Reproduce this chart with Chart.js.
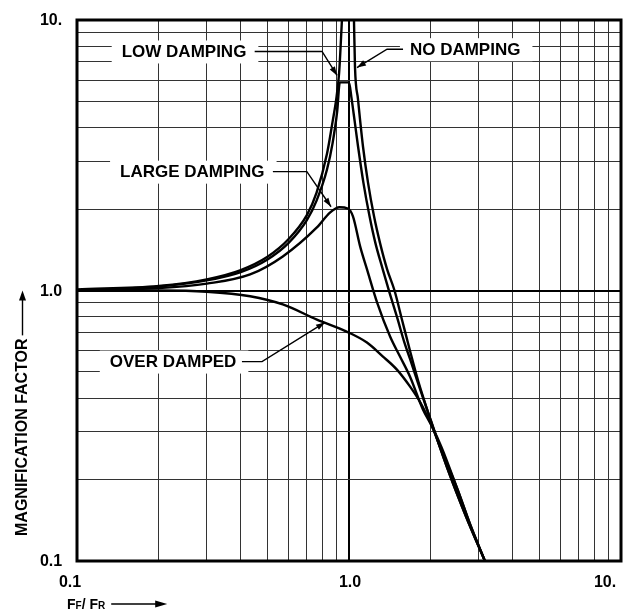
<!DOCTYPE html>
<html>
<head>
<meta charset="utf-8">
<script src="https://cdn.jsdelivr.net/npm/chart.js@4.4.1/dist/chart.umd.min.js"></script>
<style>
  html, body { margin: 0; padding: 0; background: #fff; }
  #wrap { width: 623px; height: 612px; }
</style>
</head>
<body>
<div id="wrap"><canvas id="chart" width="623" height="612"></canvas></div>
<script>
// grid positions on both log axes
const gridValues = [0.1, 0.2, 0.3, 0.4, 0.5, 0.6, 0.7, 0.8, 0.9, 1, 2, 3, 4, 5, 6, 7, 8, 9, 10];
const tickValues = [0.1, 1, 10];
const tickLabels = ['0.1', '1.0', '10.'];

// curves (x = Ff/Fr, y = magnification)
const noDampLeftX = [0.1, 0.2, 0.3, 0.4, 0.5, 0.6, 0.7, 0.76, 0.83, 0.87, 0.9, 0.92, 0.942];
const noDampLeftY = [1.01, 1.04, 1.10, 1.19, 1.33, 1.55, 1.9, 2.3, 3.2, 4.2, 5.2, 6.4, 10];

const noDampRightX = [1.043, 1.052, 1.079, 1.126, 1.175, 1.236, 1.3, 1.38, 1.47, 1.566, 1.675, 1.8, 2.0, 2.3, 2.7, 3.16];
const noDampRightY = [10, 6.7, 5.1, 3.4, 2.5, 1.88, 1.5, 1.2, 1.0, 0.78, 0.6, 0.46, 0.33, 0.22, 0.145, 0.1];

const lowDampX = [0.1, 0.2, 0.3, 0.4, 0.5, 0.6, 0.7, 0.76, 0.83, 0.87, 0.905, 0.925, 1.0, 1.02, 1.05, 1.08, 1.13, 1.19, 1.25, 1.33, 1.41, 1.5, 1.6, 1.675, 1.8, 2.0, 2.3, 2.7, 3.16];
const lowDampY = [1.0, 1.035, 1.09, 1.17, 1.3, 1.5, 1.82, 2.15, 2.8, 3.5, 4.6, 5.88, 5.88, 5.2, 4.2, 3.4, 2.5, 1.88, 1.5, 1.2, 0.98, 0.8, 0.64, 0.56, 0.45, 0.33, 0.22, 0.145, 0.1];

const largeDampX = [0.1, 0.2, 0.3, 0.433, 0.571, 0.762, 0.851, 0.923, 0.99, 1.034, 1.1, 1.164, 1.27, 1.416, 1.54, 1.675, 1.87, 2.02, 2.19, 2.5, 2.8, 3.16];
const largeDampY = [1.0, 1.02, 1.06, 1.146, 1.336, 1.71, 1.94, 2.03, 2.01, 1.88, 1.45, 1.2, 0.9, 0.676, 0.57, 0.481, 0.363, 0.314, 0.263, 0.185, 0.135, 0.1];

const overDampX = [0.1, 0.2, 0.3, 0.433, 0.571, 0.762, 0.98, 1.164, 1.333, 1.5, 1.675, 1.83, 2.02, 2.16, 2.5, 2.8, 3.16];
const overDampY = [1.0, 1.0, 0.99, 0.952, 0.888, 0.781, 0.705, 0.642, 0.57, 0.51, 0.442, 0.385, 0.314, 0.265, 0.185, 0.135, 0.1];

// callout labels: text, anchor (left/middle of text), leader path ending in arrow
const calloutText = ['LOW DAMPING', 'NO DAMPING', 'LARGE DAMPING', 'OVER DAMPED'];
const calloutAt = [[0.146, 7.65], [1.675, 7.8], [0.144, 2.75], [0.132, 0.546]];
const calloutLeader = [
  [[0.45, 7.65], [0.796, 7.65], [0.904, 6.24]],
  [[1.58, 7.8], [1.38, 7.8], [1.07, 6.67]],
  [[0.525, 2.75], [0.70, 2.75], [0.859, 2.04]],
  [[0.404, 0.546], [0.479, 0.546], [0.816, 0.762]]
];

const FONT = "'Liberation Sans', Arial, Helvetica, sans-serif";

function pts(xs, ys) { return xs.map((v, i) => ({ x: v, y: ys[i] })); }
function curve(xs, ys) {
  return {
    data: pts(xs, ys), showLine: true, pointRadius: 0,
    borderColor: '#000', borderWidth: 2.4, cubicInterpolationMode: 'monotone', fill: false
  };
}

function arrowHead(ctx, x0, y0, x1, y1, len, half) {
  const a = Math.atan2(y1 - y0, x1 - x0);
  ctx.beginPath();
  ctx.moveTo(x1, y1);
  ctx.lineTo(x1 - len * Math.cos(a) + half * Math.sin(a), y1 - len * Math.sin(a) - half * Math.cos(a));
  ctx.lineTo(x1 - len * Math.cos(a) - half * Math.sin(a), y1 - len * Math.sin(a) + half * Math.cos(a));
  ctx.closePath();
  ctx.fill();
}

const decor = {
  id: 'decor',
  beforeDatasetsDraw(chart) {
    const { ctx, scales: { x, y } } = chart;
    ctx.save();
    ctx.font = 'bold 17px ' + FONT;
    ctx.textBaseline = 'middle';
    calloutText.forEach((t, i) => {
      const px = x.getPixelForValue(calloutAt[i][0]);
      const py = y.getPixelForValue(calloutAt[i][1]);
      const w = ctx.measureText(t).width;
      ctx.fillStyle = '#fff';
      ctx.fillRect(px - 10, py - 11, w + 22, 23);
      ctx.fillStyle = '#000';
      ctx.fillText(t, px, py + 1);
      const p = calloutLeader[i].map(([a, b]) => [x.getPixelForValue(a), y.getPixelForValue(b)]);
      ctx.strokeStyle = '#000';
      ctx.lineWidth = 1.4;
      ctx.beginPath();
      p.forEach(([a, b], k) => k ? ctx.lineTo(a, b) : ctx.moveTo(a, b));
      ctx.stroke();
      const n = p.length;
      arrowHead(ctx, p[n - 2][0], p[n - 2][1], p[n - 1][0], p[n - 1][1], 9, 3);
    });
    ctx.restore();
  },
  afterDatasetsDraw(chart) {
    const { ctx, chartArea: a } = chart;
    ctx.save();
    ctx.strokeStyle = '#000';
    ctx.lineWidth = 3;
    ctx.strokeRect(a.left, a.top, a.right - a.left, a.bottom - a.top);
    ctx.restore();
  },
  afterDraw(chart) {
    const { ctx, scales: { x, y } } = chart;
    ctx.save();
    ctx.fillStyle = '#000';
    ctx.strokeStyle = '#000';
    ctx.font = 'bold 16px ' + FONT;
    ctx.textAlign = 'center';
    ctx.textBaseline = 'middle';
    // y tick labels
    tickValues.forEach((v, i) => ctx.fillText(tickLabels[i], 51, y.getPixelForValue(v) + 1));
    // x tick labels
    const xShift = [-7, 1, -16];
    tickValues.forEach((v, i) => ctx.fillText(tickLabels[i], x.getPixelForValue(v) + xShift[i], 583));

    // y title, rotated, with arrow up to the 1.0 line
    ctx.save();
    ctx.translate(23, 536);
    ctx.rotate(-Math.PI / 2);
    ctx.textAlign = 'left';
    ctx.font = 'bold 16px ' + FONT;
    ctx.fillText('MAGNIFICATION FACTOR', 0, 0);
    const tw = ctx.measureText('MAGNIFICATION FACTOR').width;
    ctx.restore();
    const yTop = y.getPixelForValue(1);
    ctx.lineWidth = 1.4;
    ctx.beginPath();
    ctx.moveTo(22.5, 536 - tw - 3);
    ctx.lineTo(22.5, yTop + 6);
    ctx.stroke();
    arrowHead(ctx, 22.5, 536 - tw, 22.5, yTop, 10, 3.5);

    // x title Ff / Fr with arrow
    ctx.textAlign = 'left';
    ctx.textBaseline = 'alphabetic';
    let cx = 67;
    const base = 609;
    const parts = [['F', 14], ['F', 10], ['/ ', 14], ['F', 14], ['R', 10]];
    parts.forEach(([s, sz]) => {
      ctx.font = 'bold ' + sz + 'px ' + FONT;
      ctx.fillText(s, cx, base);
      cx += ctx.measureText(s).width;
    });
    ctx.lineWidth = 1.4;
    ctx.beginPath();
    ctx.moveTo(cx + 6, 604);
    ctx.lineTo(cx + 52, 604);
    ctx.stroke();
    arrowHead(ctx, cx + 6, 604, cx + 62, 604, 12, 3.5);
    ctx.restore();
  }
};

function gridAxis() {
  return {
    type: 'logarithmic', min: 0.1, max: 10,
    afterBuildTicks: axis => { axis.ticks = gridValues.map(v => ({ value: v })); },
    ticks: { display: false },
    border: { display: false },
    grid: {
      drawTicks: false,
      color: ctx => (ctx.tick && ctx.tick.value === 1) ? '#000' : '#333',
      lineWidth: ctx => (ctx.tick && ctx.tick.value === 1) ? 2 : 1
    }
  };
}

new Chart(document.getElementById('chart'), {
  type: 'scatter',
  data: {
    datasets: [
      curve(noDampLeftX, noDampLeftY),
      curve(noDampRightX, noDampRightY),
      curve(lowDampX, lowDampY),
      curve(largeDampX, largeDampY),
      curve(overDampX, overDampY)
    ]
  },
  options: {
    responsive: false,
    animation: false,
    devicePixelRatio: 1,
    layout: { padding: { left: 77, right: 2, top: 20, bottom: 51 } },
    plugins: { legend: { display: false }, tooltip: { enabled: false } },
    scales: { x: gridAxis(), y: gridAxis() }
  },
  plugins: [decor]
});
</script>
</body>
</html>
